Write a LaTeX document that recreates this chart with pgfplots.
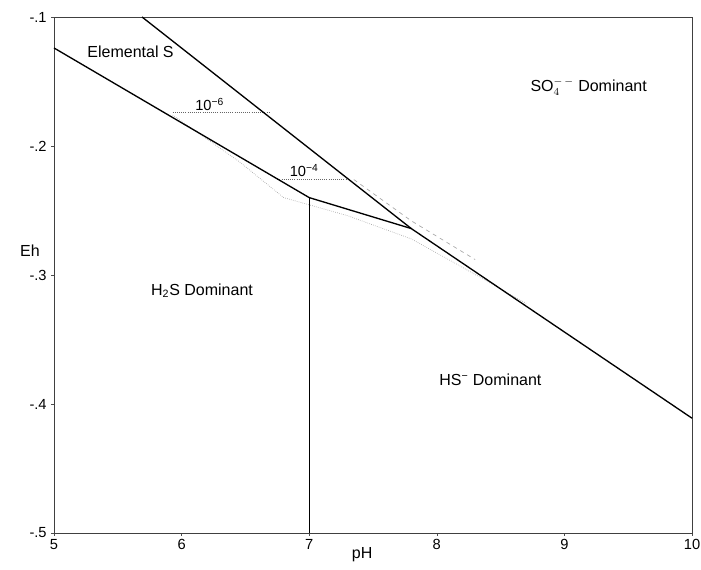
\documentclass[border=0pt]{standalone}
\usepackage{pgfplots}
\pgfplotsset{compat=1.18}
\usepackage{fontspec}
\setmainfont{Liberation Sans}
\begin{document}
\begin{tikzpicture}
\begin{axis}[
  scale only axis, width=478.5pt, height=387pt,
  xmin=5, xmax=10, ymin=-0.5, ymax=-0.1,
  xtick={5,6,7,8,9,10},
  ytick={-0.5,-0.4,-0.3,-0.2,-0.1},
  yticklabels={-.5,-.4,-.3,-.2,-.1},
  xtick pos=bottom, ytick pos=left,
  tick align=outside, major tick length=2pt,
  tick style={black!70, thin},
  axis line style={black!75, line width=0.6pt},
  /pgf/number format/assume math mode=true,
  ticklabel style={font=\fontsize{11}{13}\selectfont},
  xticklabel style={yshift=1pt},
  clip=false,
]
\coordinate (SW) at (rel axis cs:0,0);
\coordinate (NE) at (rel axis cs:1,1);
% faint dotted / dashed auxiliary lines
\addplot[black!35, densely dotted, line width=0.5pt] coordinates {(5.93,-0.176) (6.45,-0.212) (6.8,-0.240) (7.3,-0.254) (7.8,-0.272) (8.2,-0.294) (8.7,-0.322)};
\addplot[black!35, dashed, line width=0.5pt] coordinates {(7.35,-0.226) (7.8,-0.258) (8.3,-0.288)};
% dotted concentration lines
\addplot[black!60, densely dotted, line width=0.6pt] coordinates {(5.93,-0.174) (6.69,-0.174)};
\addplot[black!60, densely dotted, line width=0.6pt] coordinates {(6.75,-0.2256) (7.30,-0.2256)};
% main boundaries
\addplot[black, line width=1pt] coordinates {(5.69,-0.1) (7.8,-0.264) (10,-0.411)};
\addplot[black, line width=1pt] coordinates {(5,-0.124) (7.0,-0.240) (7.8,-0.264)};
\addplot[black, line width=1pt] coordinates {(7.0,-0.240) (7.0,-0.5)};
% labels
\begin{scope}[font=\fontsize{12}{14}\selectfont]
\node at (axis cs:5.6,-0.127) {Elemental S};
\node at (axis cs:6.22,-0.168) {\fontsize{11}{13}\selectfont 10\textsuperscript{−6}};
\node at (axis cs:6.96,-0.219) {\fontsize{11}{13}\selectfont 10\textsuperscript{−4}};
\node at (axis cs:9.19,-0.154) {$\mathrm{SO}_{4}^{-\,-}$\ Dominant};
\node at (axis cs:6.16,-0.312) {H\textsubscript{2}S\ Dominant};
\node at (axis cs:8.42,-0.381) {HS\textsuperscript{−}\ Dominant};
\node at (axis description cs:0,0.547) [xshift=-18pt] {Eh};
\node at (axis description cs:0.483,0) [yshift=-16.5pt] {pH};
\end{scope}
\end{axis}
\pgfresetboundingbox
\path ([shift={(-40.5pt,-27pt)}]SW) rectangle ([shift={(6.75pt,12.75pt)}]NE);
\end{tikzpicture}
\end{document}
